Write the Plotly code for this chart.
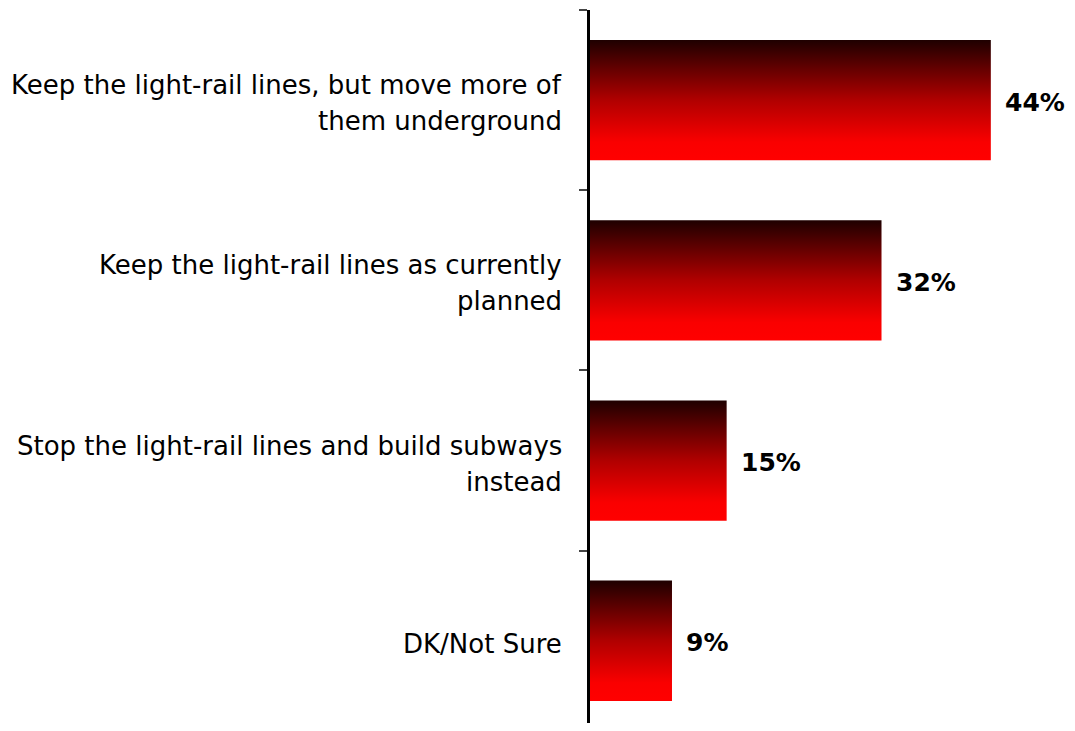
import plotly.graph_objects as go

categories = [
    "Keep the light-rail lines, but move more of<br>them underground",
    "Keep the light-rail lines as currently<br>planned",
    "Stop the light-rail lines and build subways<br>instead",
    "DK/Not Sure",
]
values = [44, 32, 15, 9]
value_labels = ["44%", "32%", "15%", "9%"]

HALF = 0.334
FONT = "DejaVu Sans"
grad = [[0, "#1e0000"], [0.5, "#b00000"], [0.85, "#fa0000"], [1, "#ff0000"]]

fig = go.Figure()
for i, (cat, v) in enumerate(zip(categories, values)):
    y0, y1 = i - HALF, i + HALF
    fig.add_trace(go.Scatter(
        x=[0, v, v, 0, 0], y=[y0, y0, y1, y1, y0],
        mode="lines", fill="toself", line=dict(width=0, color="rgba(0,0,0,0)"),
        fillgradient=dict(type="vertical", colorscale=grad, start=y0, stop=y1),
        hoverinfo="skip", showlegend=False,
    ))
    fig.add_annotation(x=v, y=i, text="<b>%s</b>" % value_labels[i], showarrow=False,
                       xanchor="left", yanchor="middle", xshift=12, yshift=-2,
                       font=dict(family=FONT, size=25, color="black"))
    lines = cat.split("<br>")
    n = len(lines)
    for j, ln in enumerate(lines):
        off = (j - (n - 1) / 2) * 36
        fig.add_annotation(x=0, xref="paper", y=i, text=ln, showarrow=False,
                           xanchor="right", yanchor="middle", xshift=-26, yshift=-off - 3,
                           font=dict(family=FONT, size=26, color="black"))

fig.update_layout(
    width=1067, height=715,
    margin=dict(l=582, r=0, t=2, b=0),
    paper_bgcolor="white", plot_bgcolor="white",
    xaxis=dict(range=[0, 53.24], visible=False, fixedrange=True),
    yaxis=dict(range=[3.456, -0.5], showgrid=False, zeroline=False,
               showline=True, linecolor="black", linewidth=3,
               tickvals=[-0.5, 0.5, 1.5, 2.5, 3.5], ticktext=["", "", "", "", ""],
               ticks="outside", ticklen=8, tickwidth=2, tickcolor="#444444"),
    hovermode=False,
)
fig.write_html("out.html")
